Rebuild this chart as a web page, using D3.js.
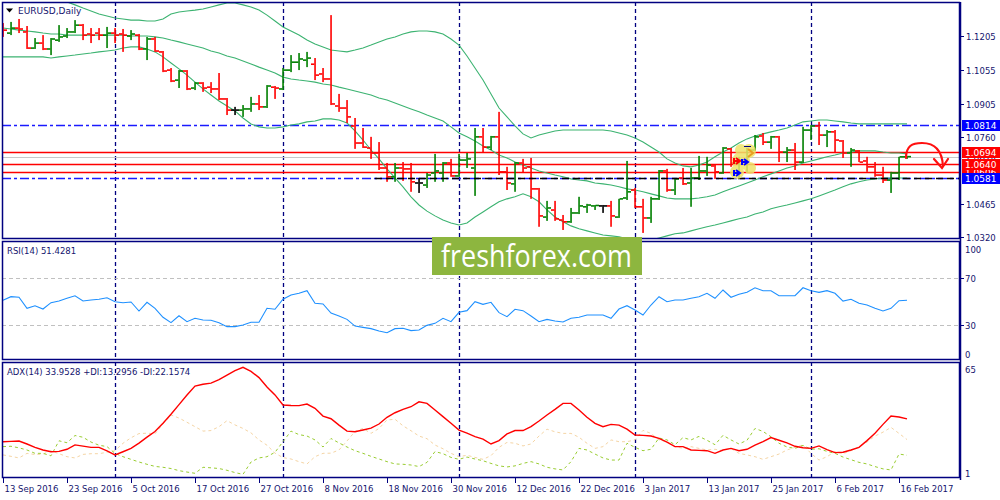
<!DOCTYPE html>
<html><head><meta charset="utf-8">
<script src="https://cdn.jsdelivr.net/npm/d3@7"></script>
<style>
html,body{margin:0;padding:0;background:#fff;overflow:hidden;}
svg{display:block;font-family:"DejaVu Sans",sans-serif;}
</style></head><body>
<svg id="c" width="1000" height="500"></svg>
<script>
// ---------- DATA ----------
const opens=[1.1236,1.1218,1.1240,1.1223,1.1152,1.1174,1.1148,1.1187,1.1205,1.1223,
1.1253,1.1214,1.1218,1.1209,1.1218,1.1214,1.1205,1.1209,1.1148,1.1192,
1.1135,1.1055,1.1011,1.1051,1.0976,1.0998,1.0980,1.0972,1.0928,1.0879,
1.0879,1.0884,1.0906,1.0893,1.0980,1.0972,1.1055,1.1090,1.1099,1.1081,
1.1038,1.1016,1.0897,1.0888,1.0809,1.0734,1.0712,1.0690,1.0624,1.0585,
1.0624,1.0620,1.0558,1.0549,1.0602,1.0602,1.0646,1.0589,1.0659,1.0624,
1.0761,1.0716,1.0761,1.0607,1.0554,1.0646,1.0629,1.0532,1.0408,1.0439,
1.0395,1.0387,1.0426,1.0453,1.0457,1.0457,1.0457,1.0408,1.0492,1.0527,
1.0453,1.0404,1.0488,1.0611,1.0527,1.0580,1.0558,1.0580,1.0611,1.0633,
1.0602,1.0708,1.0646,1.0659,1.0703,1.0765,1.0738,1.0761,1.0694,1.0703,
1.0650,1.0791,1.0809,1.0769,1.0783,1.0743,1.0690,1.0699,1.0655,1.0629,
1.0593,1.0571,1.0602,1.0673];
const highs=[1.1262,1.1267,1.1280,1.1249,1.1196,1.1209,1.1196,1.1253,1.1240,1.1275,
1.1258,1.1240,1.1240,1.1245,1.1240,1.1236,1.1231,1.1214,1.1201,1.1201,
1.1139,1.1064,1.1055,1.1055,1.1002,1.1002,1.1002,1.1042,1.0932,1.0893,
1.0901,1.0937,1.0945,1.0989,1.0985,1.1064,1.1121,1.1130,1.1135,1.1108,
1.1064,1.1297,1.0950,1.0923,1.0844,1.0800,1.0761,1.0738,1.0646,1.0646,
1.0650,1.0646,1.0580,1.0602,1.0686,1.0650,1.0664,1.0686,1.0690,1.0800,
1.0800,1.0765,1.0871,1.0629,1.0650,1.0664,1.0668,1.0536,1.0479,1.0479,
1.0417,1.0448,1.0497,1.0466,1.0461,1.0461,1.0479,1.0488,1.0655,1.0536,
1.0488,1.0497,1.0615,1.0620,1.0580,1.0624,1.0624,1.0677,1.0673,1.0637,
1.0716,1.0712,1.0673,1.0712,1.0769,1.0778,1.0765,1.0765,1.0716,1.0734,
1.0805,1.0813,1.0827,1.0791,1.0791,1.0747,1.0712,1.0703,1.0673,1.0650,
1.0629,1.0607,1.0673,1.0677];
const lows=[1.1201,1.1209,1.1218,1.1148,1.1148,1.1143,1.1121,1.1179,1.1196,1.1218,
1.1187,1.1174,1.1187,1.1152,1.1174,1.1135,1.1187,1.1143,1.1099,1.1135,
1.1046,1.1002,1.0976,1.0967,1.0967,1.0959,1.0954,1.0923,1.0857,1.0857,
1.0849,1.0871,1.0879,1.0888,1.0928,1.0967,1.1046,1.1055,1.1068,1.1011,
1.1002,1.0901,1.0871,1.0822,1.0708,1.0712,1.0664,1.0615,1.0563,1.0563,
1.0567,1.0519,1.0514,1.0536,1.0563,1.0563,1.0585,1.0585,1.0624,1.0501,
1.0694,1.0703,1.0593,1.0527,1.0519,1.0602,1.0488,1.0365,1.0391,1.0391,
1.0351,1.0382,1.0421,1.0426,1.0439,1.0426,1.0365,1.0404,1.0483,1.0448,
1.0338,1.0382,1.0483,1.0519,1.0505,1.0549,1.0453,1.0571,1.0589,1.0576,
1.0598,1.0629,1.0576,1.0607,1.0699,1.0725,1.0708,1.0650,1.0650,1.0615,
1.0646,1.0747,1.0725,1.0716,1.0694,1.0668,1.0629,1.0650,1.0607,1.0585,
1.0558,1.0514,1.0571,1.0664];
const closes=[1.1231,1.1240,1.1236,1.1152,1.1174,1.1148,1.1192,1.1201,1.1223,1.1253,
1.1209,1.1209,1.1209,1.1218,1.1209,1.1209,1.1214,1.1148,1.1192,1.1139,
1.1051,1.1007,1.1051,1.0972,1.0998,1.0976,1.0972,1.0928,1.0879,1.0879,
1.0884,1.0906,1.0893,1.0985,1.0976,1.1055,1.1090,1.1104,1.1108,1.1033,
1.1016,1.0906,1.0888,1.0849,1.0734,1.0716,1.0690,1.0624,1.0585,1.0624,
1.0620,1.0563,1.0558,1.0593,1.0611,1.0646,1.0589,1.0659,1.0664,1.0761,
1.0716,1.0761,1.0607,1.0558,1.0646,1.0624,1.0532,1.0413,1.0448,1.0400,
1.0387,1.0426,1.0457,1.0461,1.0459,1.0457,1.0413,1.0488,1.0519,1.0453,
1.0404,1.0488,1.0611,1.0527,1.0576,1.0554,1.0580,1.0611,1.0637,1.0607,
1.0712,1.0646,1.0659,1.0703,1.0761,1.0738,1.0761,1.0694,1.0703,1.0650,
1.0791,1.0809,1.0769,1.0783,1.0747,1.0690,1.0703,1.0650,1.0629,1.0593,
1.0571,1.0602,1.0673,1.0674];
const bbUpper=[1.1390,1.1390,1.1390,1.1390,1.1386,1.1381,1.1372,1.1364,1.1355,1.1342,
1.1328,1.1315,1.1302,1.1293,1.1284,1.1280,1.1275,1.1275,1.1271,1.1271,
1.1280,1.1302,1.1311,1.1315,1.1319,1.1324,1.1333,1.1342,1.1350,1.1350,
1.1342,1.1333,1.1319,1.1297,1.1271,1.1245,1.1227,1.1209,1.1187,1.1170,
1.1157,1.1143,1.1139,1.1135,1.1143,1.1152,1.1165,1.1179,1.1192,1.1201,
1.1214,1.1223,1.1227,1.1227,1.1223,1.1214,1.1192,1.1165,1.1117,1.1064,
1.1011,1.0950,1.0888,1.0849,1.0809,1.0774,1.0756,1.0769,1.0778,1.0787,
1.0791,1.0791,1.0791,1.0791,1.0791,1.0791,1.0787,1.0778,1.0769,1.0756,
1.0738,1.0716,1.0694,1.0664,1.0646,1.0633,1.0629,1.0637,1.0650,1.0673,
1.0694,1.0712,1.0734,1.0752,1.0765,1.0774,1.0783,1.0791,1.0800,1.0813,
1.0827,1.0831,1.0835,1.0835,1.0831,1.0827,1.0822,1.0818,1.0818,1.0818,
1.0818,1.0818,1.0818,1.0818];
const bbMiddle=[1.1240,1.1236,1.1231,1.1227,1.1223,1.1218,1.1214,1.1214,1.1209,1.1209,
1.1209,1.1209,1.1209,1.1209,1.1209,1.1209,1.1205,1.1205,1.1205,1.1201,
1.1196,1.1187,1.1179,1.1170,1.1161,1.1152,1.1139,1.1130,1.1117,1.1108,
1.1095,1.1082,1.1068,1.1055,1.1042,1.1024,1.1016,1.1011,1.1007,1.1002,
1.0994,1.0989,1.0980,1.0972,1.0963,1.0954,1.0945,1.0932,1.0923,1.0910,
1.0897,1.0884,1.0871,1.0857,1.0844,1.0831,1.0805,1.0778,1.0761,1.0743,
1.0721,1.0703,1.0681,1.0668,1.0650,1.0637,1.0624,1.0611,1.0602,1.0593,
1.0585,1.0576,1.0571,1.0567,1.0558,1.0554,1.0549,1.0541,1.0532,1.0527,
1.0519,1.0510,1.0501,1.0492,1.0488,1.0488,1.0488,1.0492,1.0497,1.0505,
1.0519,1.0532,1.0545,1.0558,1.0571,1.0585,1.0598,1.0611,1.0624,1.0633,
1.0646,1.0655,1.0664,1.0673,1.0681,1.0690,1.0694,1.0699,1.0699,1.0699,
1.0694,1.0690,1.0690,1.0686];
const bbLower=[1.1113,1.1113,1.1113,1.1113,1.1113,1.1113,1.1108,1.1113,1.1117,1.1121,
1.1126,1.1130,1.1135,1.1139,1.1143,1.1152,1.1157,1.1157,1.1148,1.1135,
1.1113,1.1086,1.1060,1.1033,1.1002,1.0972,1.0945,1.0919,1.0897,1.0875,
1.0844,1.0818,1.0805,1.0800,1.0800,1.0805,1.0813,1.0818,1.0827,1.0831,
1.0840,1.0840,1.0835,1.0822,1.0787,1.0747,1.0703,1.0664,1.0620,1.0580,
1.0541,1.0497,1.0461,1.0434,1.0413,1.0395,1.0382,1.0373,1.0382,1.0408,
1.0430,1.0453,1.0475,1.0488,1.0497,1.0510,1.0497,1.0475,1.0439,1.0408,
1.0387,1.0369,1.0356,1.0347,1.0338,1.0329,1.0325,1.0321,1.0312,1.0307,
1.0303,1.0307,1.0316,1.0325,1.0334,1.0338,1.0347,1.0356,1.0365,1.0373,
1.0382,1.0391,1.0400,1.0408,1.0421,1.0430,1.0444,1.0453,1.0461,1.0470,
1.0479,1.0488,1.0501,1.0514,1.0527,1.0541,1.0554,1.0563,1.0571,1.0576,
1.0580,1.0580,1.0580,1.0580];
const rsi=[51.3,54.4,53.9,44.5,46.7,43.9,49.3,50.7,53.0,55.2,
50.7,51.6,52.2,53.5,50.1,49.3,49.9,42.2,49.6,44.5,
36.9,32.3,38.2,33.1,36.0,34.6,34.3,32.3,28.9,28.9,
30.3,32.6,32.6,44.5,43.7,52.2,55.8,57.3,59.5,48.8,
48.2,40.5,38.0,35.1,29.4,28.3,27.2,25.2,23.7,27.2,
27.5,25.5,26.0,30.0,31.7,36.0,33.1,41.1,42.5,50.1,
47.9,49.6,40.8,37.4,43.7,42.5,38.0,33.1,35.1,33.7,
32.9,36.0,36.9,38.8,38.8,38.8,36.0,43.9,46.7,43.1,
38.8,47.3,54.4,50.1,51.6,51.6,53.0,54.4,57.3,53.0,
60.1,53.9,56.4,58.1,62.0,59.5,59.5,55.2,55.2,55.2,
62.0,59.5,58.1,59.5,57.3,50.7,52.2,48.8,47.3,44.5,
42.2,44.5,51.0,51.4];
const adx=[21.0,21.2,21.4,19.7,17.8,16.3,15.3,15.5,16.7,19.2,
18.5,17.8,17.8,15.8,13.5,15.3,17.2,20.2,23.6,26.8,
31.5,36.5,42.0,47.4,52.5,53.5,54.2,56.1,58.7,61.2,
63.1,60.8,57.3,52.0,47.5,41.8,41.5,41.4,42.3,39.9,
35.5,34.0,30.4,27.0,26.6,27.6,28.7,31.0,34.8,37.4,
39.3,40.8,43.6,42.7,38.9,35.2,31.4,27.6,25.8,23.9,
22.5,19.7,21.6,25.4,27.3,27.3,29.5,32.7,36.1,39.3,
42.7,42.7,38.9,34.8,31.4,29.5,30.8,30.4,28.1,24.8,
24.6,24.2,22.9,20.8,18.2,18.2,16.3,16.1,15.9,14.4,
16.3,17.2,15.9,16.7,19.0,21.0,23.3,21.8,20.3,18.4,
17.6,17.2,18.6,16.5,14.8,15.0,16.3,17.8,21.6,25.8,
30.8,35.5,35.0,33.9];
const plusDI=[18.2,18.4,17.5,16.3,14.4,14.4,13.0,21.5,20.4,24.5,
23.5,20.8,19.0,18.2,14.4,12.5,11.0,9.5,8.2,7.0,
6.5,5.8,4.6,3.8,3.1,6.5,6.2,5.8,4.8,3.5,
2.5,9.5,11.8,12.5,15.0,21.0,27.0,25.0,24.2,22.0,
18.0,22.8,20.3,18.0,15.9,14.4,12.7,11.2,9.7,8.4,
8.2,7.8,6.9,9.3,15.4,14.2,12.1,11.0,12.3,11.2,
10.2,8.7,7.3,6.7,7.3,8.7,9.7,8.4,6.5,5.6,
5.0,9.7,17.2,16.3,14.0,11.8,10.6,10.6,20.1,17.8,
15.9,16.7,23.1,22.0,19.3,23.3,22.0,24.0,21.8,19.3,
24.6,22.0,19.7,21.8,28.5,26.8,23.8,20.1,18.0,17.2,
18.9,16.7,17.0,15.5,14.4,12.3,10.8,9.3,8.4,6.9,
5.6,5.0,14.0,13.3];
const minusDI=[13.5,12.7,11.8,14.4,13.7,14.0,15.8,14.2,12.5,11.8,
13.8,14.2,14.2,15.0,15.9,20.1,23.2,25.6,25.8,25.5,
31.0,36.1,34.4,32.0,29.5,27.0,27.3,29.5,32.9,30.5,
28.5,26.0,22.0,19.0,14.5,12.0,11.2,9.7,8.4,12.5,
14.4,14.5,16.3,21.4,26.8,28.5,25.7,28.5,33.3,33.7,
30.0,27.2,24.2,22.7,19.1,17.0,14.4,12.5,13.3,12.1,
11.0,13.1,17.8,20.6,20.1,18.6,19.7,24.2,28.1,26.6,
25.7,25.7,23.5,20.1,17.2,18.2,22.0,21.0,21.0,22.0,
27.4,25.7,22.0,21.0,18.2,17.2,18.2,17.2,16.3,16.7,
15.9,17.2,14.4,13.5,12.5,11.0,12.5,14.0,16.3,17.8,
19.1,14.4,10.6,12.5,15.4,14.2,15.9,18.2,20.8,24.2,
26.4,29.1,25.7,22.2];
const tickLabels=["13 Sep 2016","23 Sep 2016","5 Oct 2016","17 Oct 2016","27 Oct 2016","8 Nov 2016","18 Nov 2016","30 Nov 2016","12 Dec 2016","22 Dec 2016","3 Jan 2017","13 Jan 2017","25 Jan 2017","6 Feb 2017","16 Feb 2017"];
const tickBars=[0,8,16,24,32,40,48,56,64,72,80,88,96,104,112];
const monthStartBars=[14,35,57,79,101];
const priceTicks=[1.1205,1.1055,1.0905,1.0760,1.0465,1.0320];
const rsiTicks=[100,70,30,0];
const rsiLevels=[70,30];
const adxTicks=[65,1];
const redLevels=[1.0694,1.0640,1.0606];
const blueLevels=[1.0814,1.0581];
const bidPrice=1.0674;
const yellowLevels=[{p:1.0760,from:93},{p:1.0581,from:47}];
const rsiTitle="RSI(14) 51.4281";
const adxTitle="ADX(14) 33.9528 +DI:13.2956 -DI:22.1574";

// ---------- LAYOUT ----------
const svg=d3.select("#c");
const NAVY="#000080", TXT="#14146e";
const PL=2, PR=960;
const P={main:[2,239],rsi:[241,360],adx:[362,478]};
const n=closes.length;
const x=d3.scaleLinear().domain([0,n-1]).range([3,3+8*(n-1)]);
const y=d3.scaleLinear().domain([1.0320,1.1205]).range([237,36]);
const yR=d3.scaleLinear().domain([0,100]).range([360.6,243.1]);
const yA=d3.scaleLinear().domain([1,65]).range([477,364]);

const defs=svg.append("defs");
Object.entries(P).forEach(([k,[t,b]])=>{
  defs.append("clipPath").attr("id","clip-"+k).append("rect").attr("x",PL).attr("y",t).attr("width",PR-PL).attr("height",b-t);
});
const f=defs.append("filter").attr("id","shadow").attr("x","-5%").attr("y","-200%").attr("width","110%").attr("height","600%");
f.append("feDropShadow").attr("dx",0).attr("dy",4).attr("stdDeviation",3).attr("flood-color","#000").attr("flood-opacity",0.35);

const gMain=svg.append("g").attr("clip-path","url(#clip-main)");
const gRsi=svg.append("g").attr("clip-path","url(#clip-rsi)");
const gAdx=svg.append("g").attr("clip-path","url(#clip-adx)");

// month separators
[["main",gMain],["rsi",gRsi],["adx",gAdx]].forEach(([k,g])=>{
  g.selectAll("line.sep").data(monthStartBars).join("line")
   .attr("x1",d=>Math.round(x(d))+0.5).attr("x2",d=>Math.round(x(d))+0.5)
   .attr("y1",P[k][0]).attr("y2",P[k][1])
   .attr("stroke",NAVY).attr("stroke-width",1.3).attr("stroke-dasharray","4,3");
});

// horizontal levels (behind bars)
gMain.append("line").attr("x1",PL).attr("x2",PR).attr("y1",Math.round(y(bidPrice))+0.5).attr("y2",Math.round(y(bidPrice))+0.5)
  .attr("stroke","#c8c8c8").attr("stroke-width",1);
gMain.selectAll("line.red").data(redLevels).join("line")
  .attr("x1",PL).attr("x2",PR).attr("y1",d=>Math.round(y(d))+0.5).attr("y2",d=>Math.round(y(d))+0.5)
  .attr("stroke","#ff0000").attr("stroke-width",1.5);
gMain.selectAll("line.blue").data(blueLevels).join("line")
  .attr("x1",PL).attr("x2",PR).attr("y1",d=>Math.round(y(d))+0.5).attr("y2",d=>Math.round(y(d))+0.5)
  .attr("stroke","#1a1aff").attr("stroke-width",1.5).attr("stroke-dasharray","9,3,3,3");

// Bollinger bands
const bbLine=arr=>d3.line().x((d,i)=>x(i)).y(d=>y(d))(arr);
[bbUpper,bbMiddle,bbLower].forEach(a=>{
  gMain.append("path").attr("d",bbLine(a)).attr("fill","none").attr("stroke","#3cb371").attr("stroke-width",1.1);
});

// OHLC bars
const bars=d3.range(n).map(i=>({i,o:opens[i],h:highs[i],l:lows[i],c:closes[i]}));
gMain.selectAll("g.bar").data(bars).join("g").each(function(d){
  const s=d3.select(this);
  const xi=x(d.i);
  const col=d.c>d.o?"#008000":(d.c<d.o?"#ff0000":"#000000");
  const yh=y(d.h), yl=y(d.l);
  s.append("rect").attr("x",xi-0.75).attr("y",yh).attr("width",1.6).attr("height",Math.max(1.5,yl-yh)).attr("fill",col);
  s.append("rect").attr("x",xi-4).attr("y",y(d.o)-0.75).attr("width",3.4).attr("height",1.6).attr("fill",col);
  s.append("rect").attr("x",xi+0.6).attr("y",y(d.c)-0.75).attr("width",3.4).attr("height",1.6).attr("fill",col);
});

// yellow trend levels with shadow
yellowLevels.forEach((lv,k)=>{
  const yy=Math.round(y(lv.p))+0.5;
  gMain.append("line").attr("x1",x(lv.from)-4).attr("x2",PR).attr("y1",yy).attr("y2",yy)
    .attr("stroke","#ffff00").attr("stroke-width",3).attr("filter","url(#shadow)");
  if(k===1){
    gMain.append("line").attr("x1",x(lv.from)-4).attr("x2",PR).attr("y1",yy).attr("y2",yy)
      .attr("stroke","#000").attr("stroke-width",1.5).attr("stroke-dasharray","7,4");
  }
});

// highlight blob with arrows (annotation)
const blob=gMain.append("g").attr("opacity",0.85);
[[741,161,9],[737,172,7],[749,151,7],[750,168,6],[741,150,6]].forEach(([cx,cy,r])=>{
  blob.append("circle").attr("cx",cx).attr("cy",cy).attr("r",r).attr("fill","#eee36a");
});
function arrow(g,cx,cy,col){
  g.append("path").attr("d",`M${cx-4},${cy} L${cx+2},${cy} M${cx-1},${cy-3} L${cx+3},${cy} L${cx-1},${cy+3} M${cx-3},${cy-3} L${cx-3},${cy+3}`)
   .attr("stroke",col).attr("stroke-width",2).attr("fill","none");
}
arrow(gMain,737,161,"#ff0000");
arrow(gMain,745,162,"#0000ff");
arrow(gMain,737,173,"#0000ff");
gMain.append("path").attr("d","M748,149 L753,153 L748,157").attr("stroke","#e8a020").attr("stroke-width",2).attr("fill","none");
gMain.append("line").attr("x1",744).attr("x2",751).attr("y1",146.5).attr("y2",146.5).attr("stroke","#000080").attr("stroke-width",1);

// red hand-drawn arrow
const ra=gMain.append("g").attr("fill","none").attr("stroke","#ff1010").attr("stroke-width",2.2).attr("stroke-linecap","round");
ra.append("path").attr("d","M906,158 C906,146 912,143 922,143 C934,143 942,150 943,166");
ra.append("path").attr("d","M934,159 L942,168 L948,159");

// ---------- RSI ----------
gRsi.selectAll("line.lv").data(rsiLevels).join("line")
  .attr("x1",PL).attr("x2",PR).attr("y1",d=>Math.round(yR(d))+0.5).attr("y2",d=>Math.round(yR(d))+0.5)
  .attr("stroke","#c0c0c0").attr("stroke-width",1).attr("stroke-dasharray","4,3");
gRsi.append("path").attr("d",d3.line().x((d,i)=>x(i)).y(d=>yR(d))(rsi))
  .attr("fill","none").attr("stroke","#1e90ff").attr("stroke-width",1.1);

// ---------- ADX ----------
const adxLine=a=>d3.line().x((d,i)=>x(i)).y(d=>yA(d))(a);
gAdx.append("path").attr("d",adxLine(minusDI)).attr("fill","none").attr("stroke","#f5d5a5").attr("stroke-width",1).attr("stroke-dasharray","3,3");
gAdx.append("path").attr("d",adxLine(plusDI)).attr("fill","none").attr("stroke","#9acd32").attr("stroke-width",1).attr("stroke-dasharray","3,3");
gAdx.append("path").attr("d",adxLine(adx)).attr("fill","none").attr("stroke","#ff0000").attr("stroke-width",1.4);

// ---------- FRAMES ----------
Object.values(P).forEach(([t,b])=>{
  svg.append("rect").attr("x",PL+0.5).attr("y",t+0.5).attr("width",PR-PL-1).attr("height",b-t-1)
    .attr("fill","none").attr("stroke",NAVY).attr("stroke-width",1.5);
});

// ---------- LOGO ----------
svg.append("rect").attr("x",432).attr("y",237).attr("width",210).attr("height",38).attr("fill","#8db63f");
svg.append("text").attr("x",441).attr("y",267).attr("fill","#fff").attr("font-family","'Open Sans',sans-serif")
  .attr("font-size",31).attr("textLength",191).attr("lengthAdjust","spacingAndGlyphs").text("freshforex.com");

// ---------- TITLES ----------
svg.append("path").attr("d","M6,8.5 L13,8.5 L9.5,12.5 Z").attr("fill","#000");
const fs=8.5;
svg.append("text").attr("x",18).attr("y",14).attr("font-size",fs+0.5).attr("fill",TXT).text("EURUSD,Daily");
svg.append("text").attr("x",7).attr("y",254).attr("font-size",fs).attr("fill",TXT).text(rsiTitle);
svg.append("text").attr("x",7).attr("y",375).attr("font-size",fs).attr("fill",TXT).text(adxTitle);

// ---------- RIGHT AXES ----------
const ax=svg.append("g").attr("font-size",fs).attr("fill",TXT);
priceTicks.forEach(p=>{
  const yy=Math.round(y(p))+0.5;
  ax.append("line").attr("x1",PR).attr("x2",PR+4).attr("y1",yy).attr("y2",yy).attr("stroke",NAVY);
  ax.append("text").attr("x",PR+6).attr("y",yy+3.5).text(p.toFixed(4));
});
const rsiLabelY={100:249,70:yR(70),30:yR(30),0:354};
rsiTicks.forEach(v=>{
  const yy=Math.round(yR(v))+0.5;
  if(v===70||v===30) ax.append("line").attr("x1",PR).attr("x2",PR+4).attr("y1",yy).attr("y2",yy).attr("stroke",NAVY);
  ax.append("text").attr("x",PR+5).attr("y",rsiLabelY[v]+3.5).text(v);
});
const adxLabelY={65:369,1:473};
adxTicks.forEach(v=>{ ax.append("text").attr("x",PR+5).attr("y",adxLabelY[v]+3.5).text(v); });

// level boxes on axis (stacked like the terminal's price labels)
function box(p,bg,fg){
  const yy=y(p);
  svg.append("rect").attr("x",PR+2).attr("y",Math.round(yy)-5).attr("width",40).attr("height",11).attr("fill",bg);
  svg.append("text").attr("x",PR+5).attr("y",Math.round(yy)+4).attr("font-size",fs+0.5).attr("fill",fg).text(p.toFixed(4));
}
box(redLevels[2],"#ff0000","#fff");
box(bidPrice,"#ffffff",NAVY);
box(redLevels[0],"#ff0000","#fff");
box(redLevels[1],"#ff0000","#fff");
box(blueLevels[0],"#0000ff","#fff");
box(blueLevels[1],"#0000ff","#fff");

// vertical axis line
svg.append("line").attr("x1",PR+0.5).attr("x2",PR+0.5).attr("y1",2).attr("y2",480).attr("stroke",NAVY).attr("stroke-width",1.5);

// ---------- BOTTOM AXIS ----------
tickBars.forEach((b,k)=>{
  const xx=Math.round(x(b))+0.5;
  svg.append("line").attr("x1",xx).attr("x2",xx).attr("y1",478).attr("y2",483).attr("stroke",NAVY);
  svg.append("text").attr("x",xx+1).attr("y",492).attr("font-size",fs).attr("fill",TXT).text(tickLabels[k]);
});
</script>
</body></html>
